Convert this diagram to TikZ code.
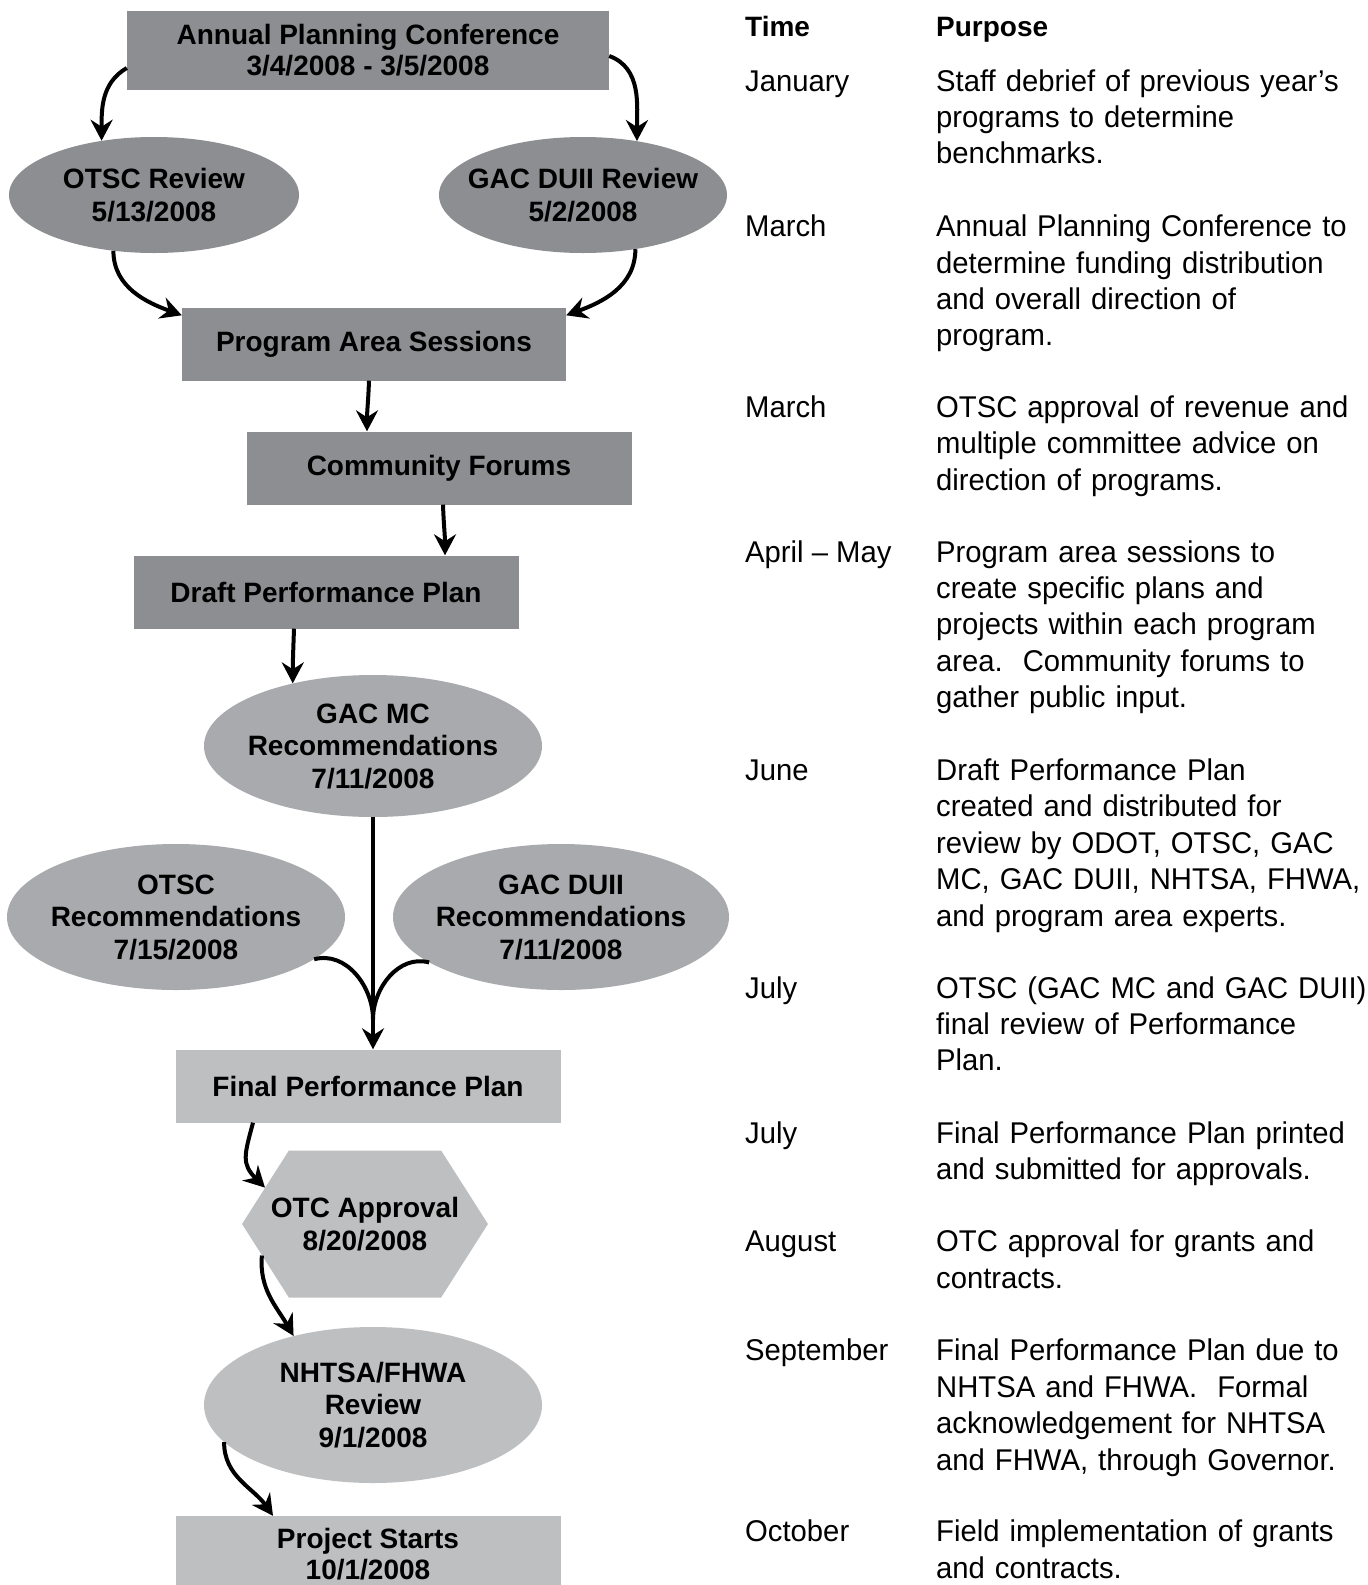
\documentclass[tikz,border=0pt]{standalone}
\usepackage{fontspec}
\setmainfont[FakeStretch=0.975]{Liberation Sans}
\newfontfamily\labelfont{Liberation Sans}
\usetikzlibrary{arrows.meta,shapes.geometric,shapes.symbols}
\definecolor{darkgrey}{HTML}{8D8E91}
\definecolor{midgrey}{HTML}{A9AAAD}
\definecolor{lightgrey}{HTML}{BEBFC1}
\tikzset{
  box/.style={rectangle, minimum width=385pt, minimum height=73pt, inner sep=0pt, align=center,
    font=\labelfont\bfseries\fontsize{28}{31.5}\selectfont},
  oval/.style={ellipse, inner xsep=-30pt, inner ysep=-12pt, align=center,
    font=\labelfont\bfseries\fontsize{28}{32.5}\selectfont},
  hexa/.style={signal, signal to=west and east, signal pointer angle=115, inner xsep=-18pt, inner ysep=0pt,
    minimum width=243pt, minimum height=147pt, align=center,
    font=\labelfont\bfseries\fontsize{28}{32.5}\selectfont},
  link/.style={line width=4pt, -{Stealth[length=21pt,width=22pt,inset=7pt]}},
  feeder/.style={line width=4pt},
  timecol/.style={anchor=base west, inner sep=0pt, font=\fontsize{30}{36.4}\selectfont},
  purposecol/.style={anchor=base west, inner sep=0pt, text width=500pt, align=left,
    font=\fontsize{30}{36.4}\selectfont},
  headcol/.style={anchor=base west, inner sep=0pt, font=\labelfont\bfseries\fontsize{28}{34}\selectfont}
}
\begin{document}
\begin{tikzpicture}[x=1pt,y=1pt]
\useasboundingbox[fill=white] (0,0) rectangle (1368,-1585);
% flow chart
\node[box, fill=darkgrey, minimum width=482pt, minimum height=79pt] (apc) at (368,-50) {Annual Planning Conference\\3/4/2008 - 3/5/2008};
\node[oval, fill=darkgrey, minimum width=290pt, minimum height=116pt] (otscrev) at (154,-195) {OTSC Review\\5/13/2008};
\node[oval, fill=darkgrey, minimum width=288pt, minimum height=116pt] (gacrev) at (583,-195) {GAC DUII Review\\5/2/2008};
\node[box, fill=darkgrey, minimum width=384pt] (pas) at (374,-344) {Program Area Sessions};
\node[box, fill=darkgrey] (cf) at (439,-468) {Community Forums};
\node[box, fill=darkgrey] (dpp) at (326,-592) {Draft Performance Plan};
\node[oval, fill=midgrey, minimum width=338pt, minimum height=142pt] (gacmc) at (373,-746) {GAC MC\\Recommendations\\7/11/2008};
\node[oval, fill=midgrey, minimum width=338pt, minimum height=146pt] (otscrec) at (176,-917) {OTSC\\Recommendations\\7/15/2008};
\node[oval, fill=midgrey, minimum width=336pt, minimum height=146pt] (gacrec) at (561,-917) {GAC DUII\\Recommendations\\7/11/2008};
\node[box, fill=lightgrey] (fpp) at (368,-1086) {Final Performance Plan};
\node[hexa, fill=lightgrey] (otc) at (365,-1224) {OTC Approval\\8/20/2008};
\node[oval, fill=lightgrey, minimum width=338pt, minimum height=156pt] (nhtsa) at (373,-1405) {NHTSA/FHWA\\Review\\9/1/2008};
\node[box, fill=lightgrey, minimum height=76pt] (ps) at (368,-1554) {Project Starts\\10/1/2008};
% connectors
\draw[link] ([yshift=-18pt]apc.west) to[out=210,in=90] (otscrev.134);
\draw[link] ([yshift=-6pt]apc.east) to[out=-20,in=90] (gacrev.45);
\draw[link] (otscrev.234) to[out=-90,in=160] ([yshift=-8pt]pas.north west);
\draw[link] (gacrev.-46) to[out=-90,in=20] ([yshift=-8pt]pas.north east);
\draw[link] ([xshift=-5pt]pas.south) to[out=-92,in=90] ([xshift=-72pt]cf.north);
\draw[link] ([xshift=4pt]cf.south) to[out=-88,in=90] ([xshift=119pt]dpp.north);
\draw[link] ([xshift=-32pt]dpp.south) to[out=-92,in=90] (gacmc.142);
\coordinate (merge) at ([xshift=5pt]fpp.north);
\coordinate (join) at ([yshift=30pt]merge);
\draw[link] (gacmc.south) -- (merge);
\draw[feeder] (otscrec.-17) to[out=15,in=90] (join);
\draw[feeder] (gacrec.199) to[out=165,in=90] (join);
\draw[link] ([xshift=-115pt]fpp.south) to[out=-105,in=135,looseness=1.3] (otc.160);
\draw[link] (otc.197) to[out=-95,in=120] (nhtsa.139);
\draw[link] (nhtsa.194) to[out=-90,in=125] ([xshift=-95pt]ps.north);
% schedule
\node[headcol] (timehead) at (745,-36.4) {Time};
\node[headcol] (purposehead) at (936,-36.4) {Purpose};
\foreach \yy/\tm/\txt [count=\i] in {
  91/January/{Staff debrief of previous year’s\\programs to determine\\benchmarks.},
  236.6/March/{Annual Planning Conference to\\determine funding distribution\\and overall direction of\\program.},
  417.5/March/{OTSC approval of revenue and\\multiple committee advice on\\direction of programs.},
  562/April – May/{Program area sessions to\\create specific plans and\\projects within each program\\area.\ \ Community forums to\\gather public input.},
  780.5/June/{Draft Performance Plan\\created and distributed for\\review by ODOT, OTSC, GAC\\MC, GAC DUII, NHTSA, FHWA,\\and program area experts.},
  998/July/{OTSC (GAC MC and GAC DUII)\\final review of Performance\\Plan.},
  1143.5/July/{Final Performance Plan printed\\and submitted for approvals.},
  1251.6/August/{OTC approval for grants and\\contracts.},
  1360.8/September/{Final Performance Plan due to\\NHTSA and FHWA.\ \ Formal\\acknowledgement for NHTSA\\and FHWA, through Governor.},
  1541.8/October/{Field implementation of grants\\and contracts.}}
{
  \node[timecol] (time\i) at (745,-\yy) {\tm};
  \node[purposecol] (purpose\i) at (936,-\yy) {\txt};
}
\end{tikzpicture}
\end{document}
